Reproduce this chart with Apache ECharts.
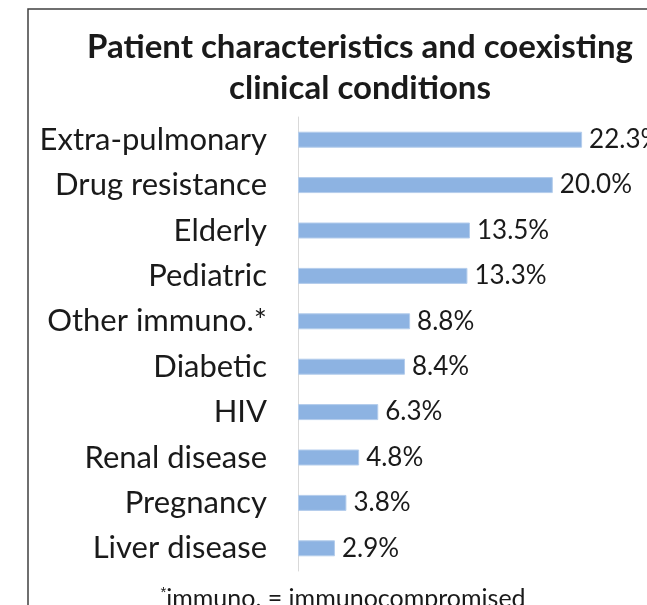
<!DOCTYPE html>
<html>
<head>
    <meta charset="utf-8">
    <title>Patient characteristics and coexisting clinical conditions</title>
    <script src="https://cdn.jsdelivr.net/npm/echarts@6/dist/echarts.min.js"></script>
    <style>
        html, body { margin: 0; padding: 0; background: #fff; }
        #chart { width: 647px; height: 605px; }
    </style>
</head>
<body>
<div id="chart"></div>
<script>
    // data, top to bottom
    var categories = ['Extra-pulmonary', 'Drug resistance', 'Elderly', 'Pediatric', 'Other immuno.*',
                      'Diabetic', 'HIV', 'Renal disease', 'Pregnancy', 'Liver disease'];
    var percents = [22.3, 20.0, 13.5, 13.3, 8.8, 8.4, 6.3, 4.8, 3.8, 2.9];

    var FONT = 'Lato, "Open Sans", sans-serif';
    var chart = echarts.init(document.getElementById('chart'));

    var option = {
        animation: false,
        title: {
            text: 'Patient characteristics and coexisting\nclinical conditions',
            left: 355,
            top: 22,
            textAlign: 'center',
            textStyle: {
                fontFamily: FONT,
                fontSize: 33,
                fontWeight: 'bold',
                color: '#1a1a1a',
                lineHeight: 41
            }
        },
        grid: { left: 298, top: 117, width: 318.5, height: 454, containLabel: false },
        xAxis: {
            type: 'value',
            min: 0,
            max: 25,
            show: false
        },
        yAxis: {
            type: 'category',
            inverse: true,
            data: categories,
            axisLine: { show: true, lineStyle: { color: '#d9d9d9', width: 1 } },
            axisTick: { show: false },
            axisLabel: {
                margin: 31,
                fontFamily: FONT,
                fontSize: 31,
                color: '#1a1a1a'
            }
        },
        series: [{
            type: 'bar',
            data: percents,
            barWidth: 16,
            itemStyle: { color: '#8db3e2', borderColor: '#b4cdec', borderWidth: 1 },
            label: {
                show: true,
                position: 'right',
                distance: 7,
                fontFamily: FONT,
                fontSize: 26,
                color: '#1a1a1a',
                formatter: function (p) { return p.value.toFixed(1) + '%'; }
            }
        }],
        graphic: [
            {
                type: 'rect',
                shape: { x: 28, y: 9, width: 700, height: 700 },
                style: { fill: null, stroke: '#404040', lineWidth: 1.5 },
                silent: true
            },
            {
                type: 'text',
                x: 343,
                y: 599,
                style: {
                    text: '{s|*}immuno. = immunocompromised',
                    fontFamily: FONT,
                    fontSize: 25,
                    fill: '#1a1a1a',
                    align: 'center',
                    verticalAlign: 'middle',
                    rich: { s: { fontSize: 15, verticalAlign: 'top', padding: [0, 0, 12, 0] } }
                }
            }
        ]
    };

    chart.setOption(option);
</script>
</body>
</html>
